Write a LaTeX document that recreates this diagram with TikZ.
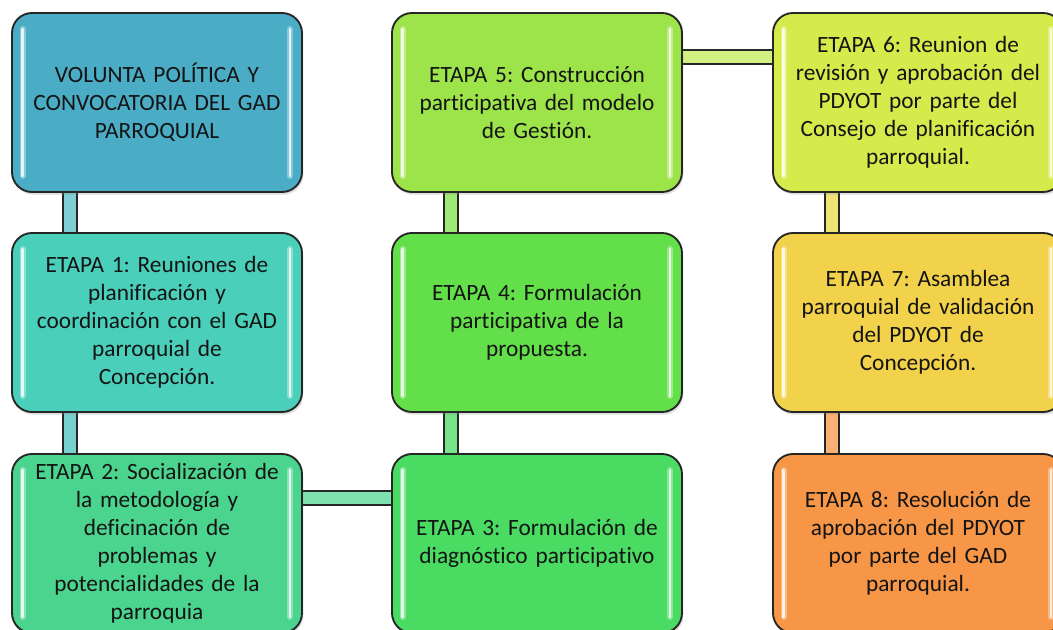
\documentclass[tikz,border=0pt]{standalone}
\usepackage{fontspec}
\setmainfont[Ligatures=NoCommon]{Carlito}
\frenchspacing
\usetikzlibrary{calc,shadows,backgrounds}
\definecolor{c0}{HTML}{4BACC6}
\definecolor{c1}{HTML}{4ACFBB}
\definecolor{c2}{HTML}{4AD48E}
\definecolor{c3}{HTML}{4ADB63}
\definecolor{c4}{HTML}{63E049}
\definecolor{c5}{HTML}{9CE44A}
\definecolor{c6}{HTML}{D5EA4B}
\definecolor{c7}{HTML}{F2D24A}
\definecolor{c8}{HTML}{F79646}
\definecolor{txt}{HTML}{141414}
\tikzset{
  stagebox/.style={draw=black!85, line width=1.4pt, rounded corners=15pt,
    minimum width=217.5pt, minimum height=134.25pt, fill=#1,
    text width=205pt, align=center, text=txt,
    font=\fontsize{17.5}{21}\selectfont,
    drop shadow={opacity=0.25, shadow xshift=1pt, shadow yshift=-2pt},
    path picture={
      \draw[white, opacity=0.35, line width=4.5pt, line cap=round]
        ([xshift=8pt,yshift=-12pt]path picture bounding box.north west) --
        ([xshift=8pt,yshift=12pt]path picture bounding box.south west);
      \draw[white, opacity=0.35, line width=4.5pt, line cap=round]
        ([xshift=-9pt,yshift=-12pt]path picture bounding box.north east) --
        ([xshift=-9pt,yshift=12pt]path picture bounding box.south east);
      \draw[white, opacity=0.8, line width=2pt, line cap=round]
        ([xshift=8pt,yshift=-12pt]path picture bounding box.north west) --
        ([xshift=8pt,yshift=12pt]path picture bounding box.south west);
      \draw[white, opacity=0.8, line width=2pt, line cap=round]
        ([xshift=-9pt,yshift=-12pt]path picture bounding box.north east) --
        ([xshift=-9pt,yshift=12pt]path picture bounding box.south east);
    }},
  linkbar/.style={draw=black!85, line width=1.5pt, double=#1, double distance=9pt}
}
\begin{document}
\begin{tikzpicture}[x=0.75pt,y=-0.75pt]
\clip (0,0) rectangle (1053,630);
\node[stagebox=c0] (b0) at (157,102.5) {VOLUNTA POLÍTICA Y\\CONVOCATORIA DEL GAD\\PARROQUIAL};
\node[stagebox=c1] (b1) at (157,322.5) {ETAPA 1: Reuniones de\\planificación y\\coordinación con el GAD\\parroquial de\\Concepción.};
\node[stagebox=c2] (b2) at (157,543.5) {ETAPA 2: Socialización de\\la metodología y\\deficinación de\\problemas y\\potencialidades de la\\parroquia};
\node[stagebox=c3] (b3) at (537,543.5) {ETAPA 3: Formulación de\\diagnóstico participativo};
\node[stagebox=c4] (b4) at (537,322.5) {ETAPA 4: Formulación\\participativa de la\\propuesta.};
\node[stagebox=c5] (b5) at (537,102.5) {ETAPA 5: Construcción\\participativa del modelo\\de Gestión.};
\node[stagebox=c6] (b6) at (918,102.5) {ETAPA 6: Reunion de\\revisión y aprobación del\\PDYOT por parte del\\Consejo de planificación\\parroquial.};
\node[stagebox=c7] (b7) at (918,322.5) {ETAPA 7: Asamblea\\parroquial de validación\\del PDYOT de\\Concepción.};
\node[stagebox=c8] (b8) at (918,543.5) {ETAPA 8: Resolución de\\aprobación del PDYOT\\por parte del GAD\\parroquial.};
\begin{scope}[on background layer]
\fill[white] (0,0) rectangle (1053,630);
\draw[linkbar=c0!60!c1!70!white] ($(b0.south west)+(59,-3)$) -- ($(b1.north west)+(59,3)$);
\draw[linkbar=c1!60!c0!75!white] ($(b1.south west)+(59,-3)$) -- ($(b2.north west)+(59,3)$);
\draw[linkbar=c2!70!white] ($(b2.north east)+(-3,45)$) -- ($(b3.north west)+(3,45)$);
\draw[linkbar=c3!75!white] ($(b3.north west)+(60,3)$) -- ($(b4.south west)+(60,-3)$);
\draw[linkbar=c4!50!c5!75!white] ($(b4.north west)+(60,3)$) -- ($(b5.south west)+(60,-3)$);
\draw[linkbar=c5!40!c6!70!white] ($(b5.north east)+(-3,45)$) -- ($(b6.north west)+(3,45)$);
\draw[linkbar=c6!30!c7!75!white] ($(b6.south west)+(60,-3)$) -- ($(b7.north west)+(60,3)$);
\draw[linkbar=c8!75!white] ($(b7.south west)+(60,-3)$) -- ($(b8.north west)+(60,3)$);
\end{scope}
\end{tikzpicture}
\end{document}
